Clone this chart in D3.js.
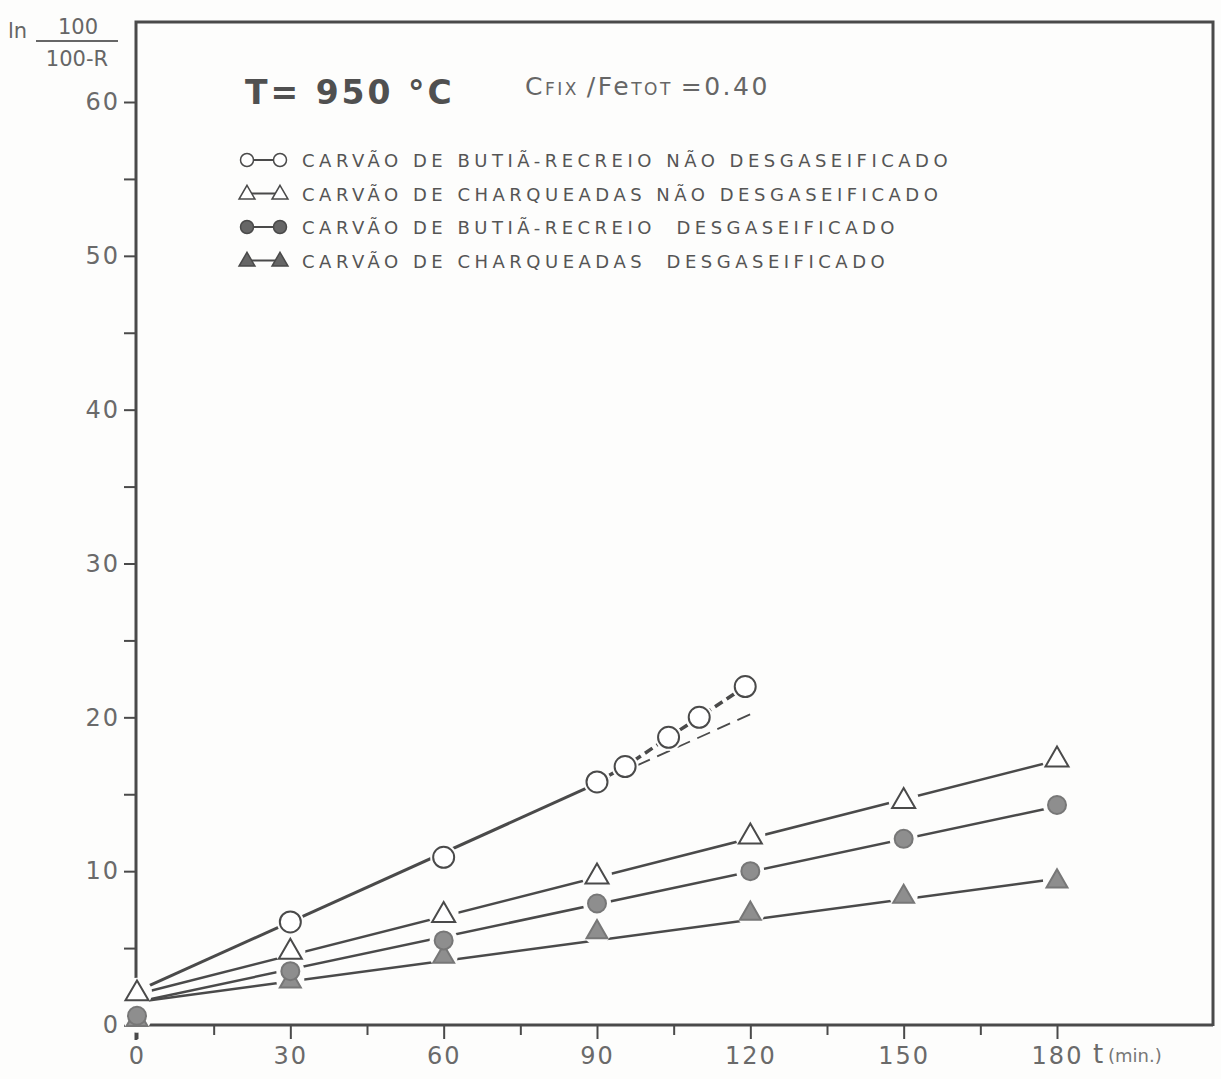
<!DOCTYPE html>
<html>
<head>
<meta charset="utf-8">
<script src="https://cdn.jsdelivr.net/npm/d3@7"></script>
<style>
  body { margin: 0; background: #fff; }
  svg { display: block; }
</style>
</head>
<body>
<script>
// data
var xTicks = [0, 30, 60, 90, 120, 150, 180];
var yTicks = [0, 10, 20, 30, 40, 50, 60];

// open circles - Butiá-Recreio não desgaseificado
var butiaT = [30, 60, 90, 95.5, 104, 110, 119];
var butiaV = [6.7, 10.9, 15.8, 16.8, 18.7, 20.0, 22.0];
// open triangles - Charqueadas não desgaseificado
var charqT = [0, 30, 60, 90, 120, 150, 180];
var charqV = [2.1, 4.8, 7.2, 9.7, 12.3, 14.6, 17.3];
// filled circles - Butiá-Recreio desgaseificado
var butiaDT = [0, 30, 60, 90, 120, 150, 180];
var butiaDV = [0.6, 3.5, 5.5, 7.9, 10.0, 12.1, 14.3];
// filled triangles - Charqueadas desgaseificado
var charqDT = [0, 30, 60, 90, 120, 150, 180];
var charqDV = [0.4, 2.9, 4.5, 6.1, 7.3, 8.4, 9.4];

// fitted straight lines [t0, v0, t1, v1]
var butiaFit = [0, 2.2, 90, 15.7];
var butiaExtra = [90, 15.7, 120, 20.2];
var charqFit = [0, 2.0, 180, 17.2];
var butiaDFit = [0, 1.5, 180, 14.2];
var charqDFit = [0, 1.5, 180, 9.5];

var legendLabels = [
  "CARVÃO DE BUTIÃ-RECREIO NÃO DESGASEIFICADO",
  "CARVÃO DE CHARQUEADAS NÃO DESGASEIFICADO",
  "CARVÃO DE BUTIÃ-RECREIO  DESGASEIFICADO",
  "CARVÃO DE CHARQUEADAS  DESGASEIFICADO"
];

var svgWidth = 1221;
var svgHeight = 1079;
var ink = "#4a4a4a";
var grayFill = "#8e8e8e";
var bg = "#fdfdfc";
var font = "'DejaVu Sans', sans-serif";

var svg = d3.select("body").append("svg")
  .attr("width", svgWidth)
  .attr("height", svgHeight);

svg.append("rect").attr("width", svgWidth).attr("height", svgHeight).attr("fill", bg);

var x = d3.scaleLinear().domain([0, 180]).range([137, 1057]);
var y = d3.scaleLinear().domain([0, 60]).range([1025, 102]);

// frame
svg.append("path")
  .attr("d", "M136,1040 L136,22 L1213,22 L1213,1026")
  .attr("fill", "none").attr("stroke", ink).attr("stroke-width", 3);

// x axis
var xAxis = svg.append("g")
  .attr("transform", "translate(0,1025)")
  .call(d3.axisBottom(x).tickValues(d3.range(0, 181, 15)).tickSize(12).tickPadding(10)
    .tickFormat(d => xTicks.indexOf(d) >= 0 ? d : ""));
xAxis.select(".domain").remove();
xAxis.append("line").attr("x1", 124).attr("x2", 1213).attr("stroke", ink).attr("stroke-width", 3);
xAxis.selectAll(".tick line").attr("stroke", ink).attr("stroke-width", 2)
  .attr("y2", d => d % 30 === 0 ? 14 : 10);
xAxis.selectAll(".tick text")
  .attr("font-family", font).attr("font-size", 24).attr("fill", "#6a6a6a")
  .attr("letter-spacing", 2);

svg.append("text").attr("x", 1093).attr("y", 1063)
  .attr("font-family", font).attr("font-size", 26).attr("fill", "#6a6a6a").text("t");
svg.append("text").attr("x", 1108).attr("y", 1062)
  .attr("font-family", font).attr("font-size", 18).attr("fill", "#777").text("(min.)");

// y axis
var yAxis = svg.append("g")
  .attr("transform", "translate(136,0)")
  .call(d3.axisLeft(y).tickValues(d3.range(0, 61, 5)).tickSize(12).tickPadding(4)
    .tickFormat(d => yTicks.indexOf(d) >= 0 ? d : ""));
yAxis.select(".domain").remove();
yAxis.selectAll(".tick line").attr("stroke", ink).attr("stroke-width", 2);
yAxis.selectAll(".tick text")
  .attr("font-family", font).attr("font-size", 24).attr("fill", "#6a6a6a")
  .attr("letter-spacing", 2);

// y label ln 100/(100-R)
svg.append("text").attr("x", 8).attr("y", 38)
  .attr("font-family", font).attr("font-size", 21).attr("fill", "#666").text("ln");
svg.append("text").attr("x", 78).attr("y", 34).attr("text-anchor", "middle")
  .attr("font-family", font).attr("font-size", 21).attr("fill", "#666").text("100");
svg.append("line").attr("x1", 36).attr("x2", 118).attr("y1", 41).attr("y2", 41)
  .attr("stroke", "#666").attr("stroke-width", 2);
svg.append("text").attr("x", 77).attr("y", 66).attr("text-anchor", "middle")
  .attr("font-family", font).attr("font-size", 21).attr("fill", "#666").text("100-R");

// titles
svg.append("text").attr("x", 245).attr("y", 104)
  .attr("font-family", font).attr("font-size", 33).attr("font-weight", "bold")
  .attr("fill", "#505050").attr("letter-spacing", 3).attr("xml:space", "preserve")
  .text("T= 950 °C");
var cfix = svg.append("text").attr("x", 525).attr("y", 95)
  .attr("font-family", font).attr("font-size", 25).attr("fill", "#666")
  .attr("letter-spacing", 2.5).attr("xml:space", "preserve");
cfix.append("tspan").text("C");
cfix.append("tspan").attr("font-size", 17).text("FIX ");
cfix.append("tspan").text("/Fe");
cfix.append("tspan").attr("font-size", 17).text("TOT ");
cfix.append("tspan").text("=0.40");

// lines
function fitLine(f, dash, width) {
  svg.append("line")
    .attr("x1", x(f[0])).attr("y1", y(f[1]))
    .attr("x2", x(f[2])).attr("y2", y(f[3]))
    .attr("stroke", ink).attr("stroke-width", width)
    .attr("stroke-dasharray", dash);
}
fitLine(butiaFit, null, 3);
fitLine(butiaExtra, "14,8", 1.8);
fitLine(charqFit, null, 2.5);
fitLine(butiaDFit, null, 2.5);
fitLine(charqDFit, null, 2.5);

// heavy dashed join between the late open-circle points
var joinLine = d3.line().x(d => x(d[0])).y(d => y(d[1]));
svg.append("path")
  .attr("d", joinLine(d3.zip(butiaT.slice(2), butiaV.slice(2))))
  .attr("fill", "none").attr("stroke", ink).attr("stroke-width", 3.5)
  .attr("stroke-dasharray", "9,5");

var tri = d3.symbol().type(d3.symbolTriangle);

var series = [
  {t: charqDT, v: charqDV, tri: true, filled: true},
  {t: butiaDT, v: butiaDV, tri: false, filled: true},
  {t: charqT, v: charqV, tri: true, filled: false},
  {t: butiaT, v: butiaV, tri: false, filled: false}
];

// white halos first so lines break around every marker
var halos = svg.append("g");
series.forEach(function(s) {
  halos.selectAll(null).data(d3.zip(s.t, s.v)).enter().append("circle")
    .attr("cx", d => x(d[0])).attr("cy", d => y(d[1]))
    .attr("r", s.filled ? 14 : (s.tri ? 15 : 13.5)).attr("fill", bg);
});

series.forEach(function(s) {
  var pts = d3.zip(s.t, s.v);
  var g = svg.append("g");
  if (s.tri) {
    g.selectAll(null).data(pts).enter().append("path")
      .attr("d", tri.size(s.filled ? 190 : 230)())
      .attr("transform", d => "translate(" + x(d[0]) + "," + (y(d[1]) + 1) + ")")
      .attr("fill", s.filled ? grayFill : "#fff")
      .attr("stroke", s.filled ? "#777" : ink).attr("stroke-width", 2);
  } else {
    g.selectAll(null).data(pts).enter().append("circle")
      .attr("cx", d => x(d[0])).attr("cy", d => y(d[1]))
      .attr("r", s.filled ? 9 : 10.5)
      .attr("fill", s.filled ? grayFill : "#fff")
      .attr("stroke", s.filled ? "#777" : ink).attr("stroke-width", 2);
  }
});

// legend
var legend = svg.append("g");
legendLabels.forEach(function(lab, i) {
  var ly = 160 + i * 33.5;
  var filled = i >= 2, isTri = i % 2 === 1;
  var row = legend.append("g");
  row.append("line").attr("x1", 247).attr("x2", 280).attr("y1", ly).attr("y2", ly)
    .attr("stroke", ink).attr("stroke-width", 2);
  [247, 280].forEach(function(mx) {
    if (isTri) {
      row.append("path").attr("d", tri.size(110)())
        .attr("transform", "translate(" + mx + "," + (ly + 1) + ")")
        .attr("fill", filled ? "#666" : "#fff").attr("stroke", ink).attr("stroke-width", 1.5);
    } else {
      row.append("circle").attr("cx", mx).attr("cy", ly).attr("r", 6.5)
        .attr("fill", filled ? "#666" : "#fff").attr("stroke", ink).attr("stroke-width", 1.5);
    }
  });
  row.append("text").attr("x", 302).attr("y", ly + 7)
    .attr("font-family", font).attr("font-size", 18).attr("fill", "#555")
    .attr("letter-spacing", 4.5).attr("xml:space", "preserve")
    .text(lab);
});
</script>
</body>
</html>
